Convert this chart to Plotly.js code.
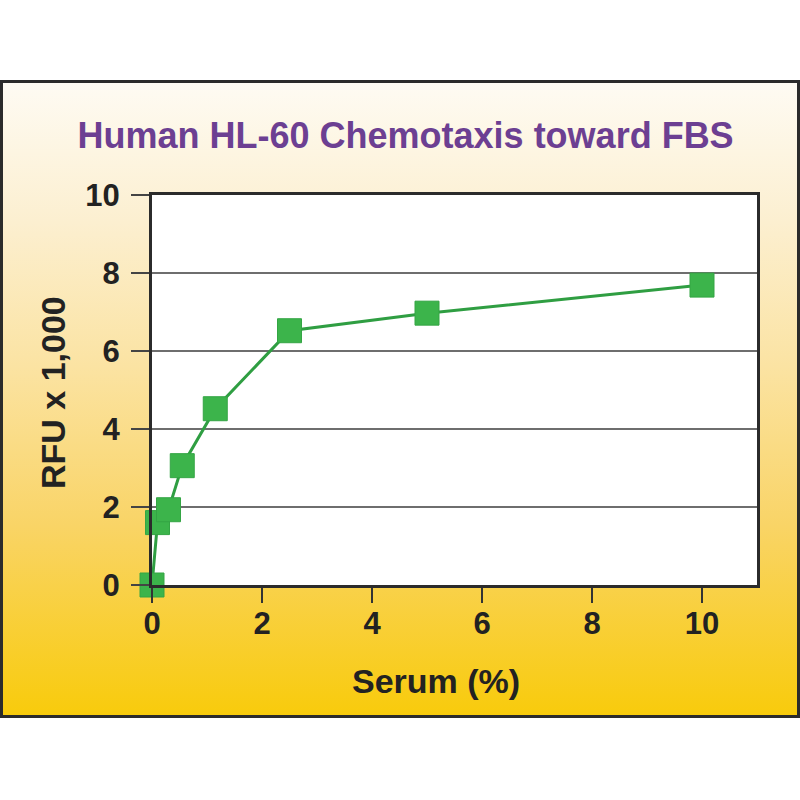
<!DOCTYPE html>
<html>
<head>
<meta charset="utf-8">
<script src="https://cdn.plot.ly/plotly-3.0.1.min.js"></script>
<style>
  body { margin: 0; background: #ffffff; }
  #wrap { position: relative; width: 800px; height: 800px; }
  /* framed box with the yellow gradient behind the chart */
  #frame {
    position: absolute; left: 0; top: 80px; width: 800px; height: 638px;
    box-sizing: border-box; border: 3px solid #2b2b2b;
    background: linear-gradient(to bottom, #fefbf3 0%, #fcefd0 22%, #fbe3a2 45%, #f9d466 70%, #f8cb0c 100%);
  }
  #plot { position: absolute; left: 0; top: 0; width: 800px; height: 800px; }
</style>
</head>
<body>
<div id="wrap">
  <div id="frame"></div>
  <div id="plot"></div>
</div>
<script>
// serum concentration (%) and response (RFU x 1,000)
var serum = [0, 0.1, 0.3, 0.55, 1.15, 2.5, 5, 10];
var rfu = [0, 1.6, 1.93, 3.06, 4.52, 6.52, 6.97, 7.69];

var xTicks = [0, 2, 4, 6, 8, 10];
var yTicks = [0, 2, 4, 6, 8, 10];

var textFont = 'Liberation Sans, Arial, sans-serif';
var labelFont = { family: textFont, size: 34, color: '#222222', weight: 'bold' };

var trace = {
  x: serum, y: rfu,
  type: 'scatter',
  mode: 'lines+markers',
  line: { color: '#2f9e42', width: 3 },
  marker: { symbol: 'square', size: 24, color: '#3cb44b',
            line: { color: '#34a544', width: 1 } },
  cliponaxis: false,
  hoverinfo: 'x+y'
};

var layout = {
  width: 800, height: 800,
  paper_bgcolor: 'rgba(0,0,0,0)',
  plot_bgcolor: '#ffffff',
  margin: { l: 152, r: 43, t: 195, b: 215 },
  showlegend: false,
  title: {
    text: 'Human HL-60 Chemotaxis toward FBS',
    font: { family: textFont, size: 36, color: '#6c3f92', weight: 'bold' },
    x: 0.507, xanchor: 'center',
    y: 0.831, yref: 'container', yanchor: 'middle'
  },
  xaxis: {
    range: [0, 11],
    tickvals: xTicks,
    ticks: 'outside', ticklen: 15, tickwidth: 2, tickcolor: '#333333',
    ticklabelstandoff: -6,
    showgrid: false, zeroline: false,
    showline: true, linecolor: '#2b2b2b', linewidth: 3, mirror: true,
    tickfont: { family: textFont, size: 31, color: '#222222', weight: 'bold' }
  },
  yaxis: {
    range: [0, 10],
    tickvals: yTicks,
    ticks: 'outside', ticklen: 18, tickwidth: 2, tickcolor: '#444444',
    ticklabelstandoff: 5,
    showgrid: true, gridcolor: '#6e6e6e', gridwidth: 2,
    zeroline: false,
    showline: true, linecolor: '#2b2b2b', linewidth: 3, mirror: true,
    tickfont: { family: textFont, size: 31, color: '#222222', weight: 'bold' }
  },
  // axis titles placed as annotations so they sit where the original has them
  annotations: [
    { text: 'Serum (%)', xref: 'paper', yref: 'paper',
      x: (436 - 152) / 605, y: -(681 - 585) / 390,
      xanchor: 'center', yanchor: 'middle', showarrow: false, font: labelFont },
    { text: 'RFU x 1,000', xref: 'paper', yref: 'paper',
      x: -(152 - 53) / 605, y: (585 - 393) / 390, textangle: -90,
      xanchor: 'center', yanchor: 'middle', showarrow: false, font: labelFont }
  ]
};

Plotly.newPlot('plot', [trace], layout, { displayModeBar: false, staticPlot: true });
</script>
</body>
</html>
